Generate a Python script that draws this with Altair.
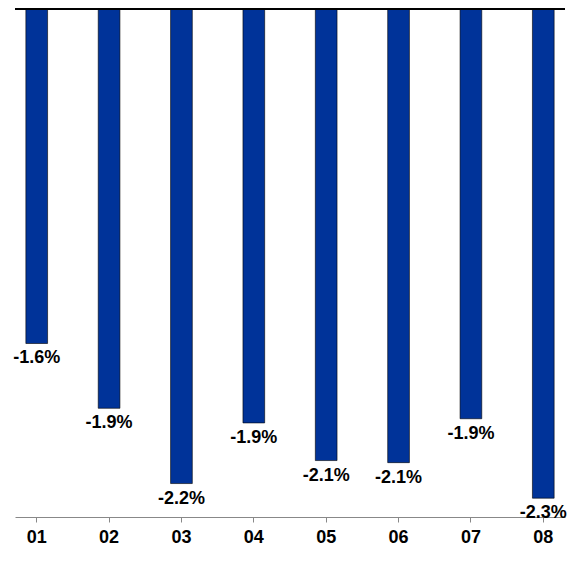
import altair as alt
import pandas as pd

cats = ["01","02","03","04","05","06","07","08"]
vals = [-1.60, -1.91, -2.27, -1.98, -2.16, -2.17, -1.96, -2.34]
labels = ["-1.6%","-1.9%","-2.2%","-1.9%","-2.1%","-2.1%","-1.9%","-2.3%"]

df = pd.DataFrame({"c": cats, "v": vals, "t": labels})

x = alt.X("c:O", title=None, scale=alt.Scale(paddingInner=0.7, paddingOuter=0.15),
          axis=alt.Axis(labelAngle=0, labelFontWeight="bold", labelFontSize=18, labelFont="Arial",
                        labelColor="black", domainColor="#888", tickColor="#888", labelPadding=6))
y = alt.Y("v:Q", scale=alt.Scale(domain=[-2.43, 0], nice=False), axis=None)

bars = alt.Chart(df).mark_bar(color="#003399", stroke="black", strokeWidth=0.6).encode(x=x, y=y, y2=alt.datum(0))
text = alt.Chart(df).mark_text(baseline="top", dy=6, fontSize=18, fontWeight="bold", font="Arial", color="black").encode(x=x, y=y, text="t:N")
zero = alt.Chart(df).mark_rule(color="black").encode(y=alt.datum(0))

chart = (bars + text + zero).properties(width=550, height=508, padding={"top": 0, "left": 5, "right": 5, "bottom": 5}).configure_view(stroke=None)
chart.save("out.html", embed_options={"renderer": "svg", "actions": False})
